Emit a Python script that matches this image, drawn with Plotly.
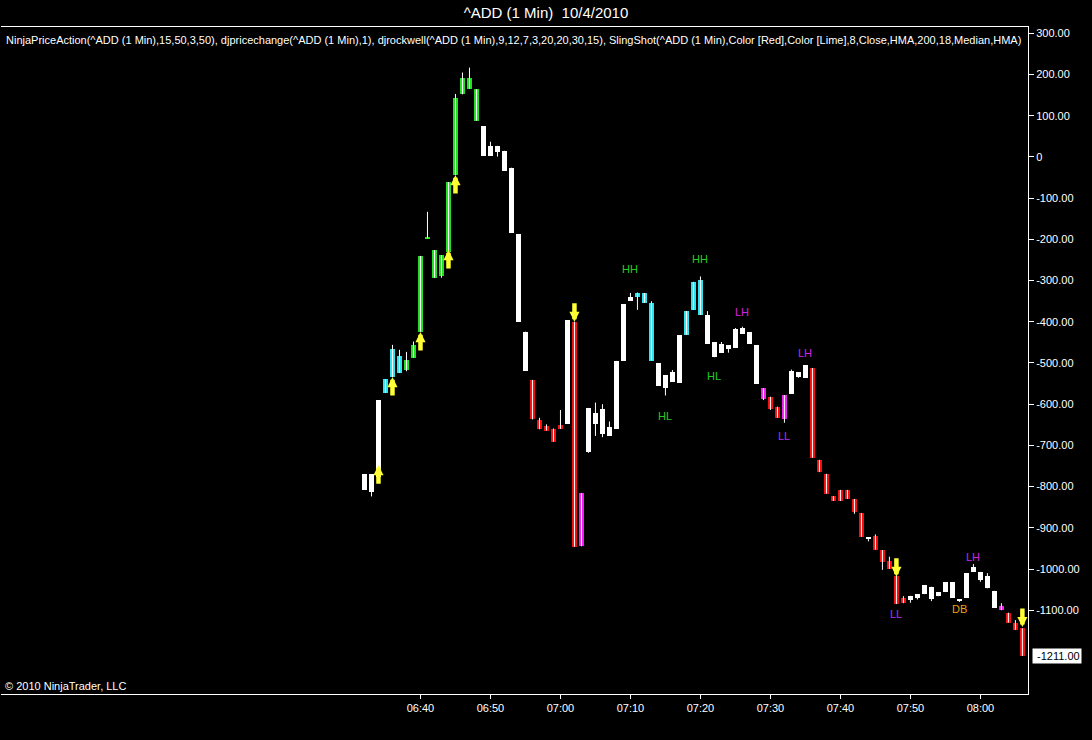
import pandas as pd
import plotly.graph_objects as go

# ---------------- data ----------------
start_time = "2010-10-04 06:32"
opens = [-808, -770, -776, -573, -534, -482, -517, -487, -424, -198,
         -293, -289, -230, -44, 152, 191, 164, 75, 3, 27,
         15, -26, -187, -424, -541, -638, -653, -659, -650, -648,
         -400, -945, -715, -648, -672, -655, -660, -494, -349, -329,
         -330, -354, -501, -529, -545, -548, -431, -371, -383, -383,
         -450, -455, -457, -463, -429, -425, -457, -561, -582, -606,
         -637, -575, -522, -536, -512, -735, -769, -823, -808, -808,
         -830, -864, -924, -921, -954, -980, -1017, -1070, -1075, -1061,
         -1061, -1043, -1056, -1056, -1032, -1075, -1070, -994, -1007, -1017,
         -1053, -1090, -1106, -1130, -1144]
closes = [-770, -813, -591, -539, -466, -524, -493, -456, -240, -195,
          -226, -238, -61, 142, 191, 165, 88, 3, 27, 13,
          -33, -184, -400, -519, -637, -661, -664, -691, -660, -396,
          -946, -816, -609, -622, -612, -676, -495, -357, -339, -341,
          -354, -494, -555, -560, -522, -432, -374, -303, -299, -453,
          -486, -475, -467, -418, -416, -453, -550, -587, -612, -633,
          -578, -519, -534, -506, -730, -765, -817, -835, -835, -830,
          -862, -922, -926, -953, -982, -1000, -1085, -1083, -1065, -1070,
          -1039, -1074, -1066, -1032, -1070, -1077, -1010, -1007, -1027, -1047,
          -1094, -1100, -1130, -1148, -1211]
highs = [-770, -770, -591, -539, -456, -468, -473, -448, -240, -133,
         -226, -238, -61, 153, 205, 217, 164, 75, 37, 27,
         15, -26, -187, -424, -541, -633, -649, -659, -614, -396,
         -400, -816, -609, -596, -600, -642, -495, -357, -330, -329,
         -330, -350, -501, -529, -517, -432, -374, -303, -290, -374,
         -450, -449, -457, -415, -412, -425, -457, -561, -582, -606,
         -578, -516, -522, -506, -512, -735, -769, -823, -808, -808,
         -830, -864, -924, -916, -954, -970, -1017, -1066, -1065, -1061,
         -1039, -1043, -1056, -1032, -1032, -1075, -1010, -988, -1007, -1010,
         -1053, -1083, -1106, -1124, -1144]
lows = [-808, -824, -778, -573, -534, -524, -520, -487, -424, -198,
        -293, -293, -230, -44, 152, 165, 88, 3, 3, 1,
        -33, -184, -400, -519, -637, -661, -664, -691, -660, -648,
        -946, -945, -718, -677, -680, -676, -660, -494, -349, -371,
        -354, -494, -555, -579, -545, -548, -431, -371, -383, -453,
        -486, -475, -475, -463, -429, -453, -550, -590, -614, -633,
        -645, -575, -536, -536, -730, -765, -817, -835, -835, -830,
        -866, -922, -933, -953, -1002, -1000, -1085, -1083, -1082, -1074,
        -1061, -1078, -1066, -1056, -1070, -1080, -1070, -1007, -1031, -1047,
        -1094, -1100, -1130, -1148, -1211]
bar_colors = (["white"] * 3 + ["cyan"] * 3 + ["green"] * 11 + ["white"] * 7 +
              ["red"] * 5 + ["white", "red", "magenta"] + ["white"] * 7 +
              ["cyan"] * 3 + ["white"] * 4 + ["cyan"] * 3 + ["white"] * 8 +
              ["magenta", "red", "red", "magenta"] + ["white"] * 3 +
              ["red"] * 8 + ["white"] + ["red"] * 5 + ["white"] * 13 +
              ["magenta"] + ["red"] * 3)

up_arrow_times = ["2010-10-04 06:34", "2010-10-04 06:36", "2010-10-04 06:40",
                  "2010-10-04 06:44", "2010-10-04 06:45"]
up_arrow_values = [-748, -534, -425, -226, -44]
down_arrow_times = ["2010-10-04 07:02", "2010-10-04 07:48", "2010-10-04 08:06"]
down_arrow_values = [-400, -1019, -1141]

label_times = ["2010-10-04 07:10", "2010-10-04 07:20", "2010-10-04 07:26",
               "2010-10-04 07:22", "2010-10-04 07:15", "2010-10-04 07:35",
               "2010-10-04 07:32", "2010-10-04 07:48", "2010-10-04 07:57",
               "2010-10-04 07:59"]
label_values = [-272, -248, -376, -532, -629, -476, -677, -1109, -1097, -971]
label_texts = ["HH", "HH", "LH", "HL", "HL", "LH", "LL", "LL", "DB", "LH"]

x_tick_times = ["2010-10-04 06:40", "2010-10-04 06:50", "2010-10-04 07:00",
                "2010-10-04 07:10", "2010-10-04 07:20", "2010-10-04 07:30",
                "2010-10-04 07:40", "2010-10-04 07:50", "2010-10-04 08:00"]
x_tick_labels = ["06:40", "06:50", "07:00", "07:10", "07:20", "07:30",
                 "07:40", "07:50", "08:00"]
y_tick_values = [300, 200, 100, 0, -100, -200, -300, -400, -500, -600,
                 -700, -800, -900, -1000, -1100]
y_tick_labels = ["300.00", "200.00", "100.00", "0", "-100.00", "-200.00",
                 "-300.00", "-400.00", "-500.00", "-600.00", "-700.00",
                 "-800.00", "-900.00", "-1000.00", "-1100.00"]

title_text = "^ADD (1 Min)  10/4/2010"
indicator_text = ("NinjaPriceAction(^ADD (1 Min),15,50,3,50), djpricechange(^ADD (1 Min),1), "
                  "djrockwell(^ADD (1 Min),9,12,7,3,20,20,30,15), SlingShot(^ADD (1 Min),"
                  "Color [Red],Color [Lime],8,Close,HMA,200,18,Median,HMA)")
copyright_text = "© 2010 NinjaTrader, LLC"

# ---------------- styles ----------------
palette = {"white": "#ffffff", "green": "#22e022", "cyan": "#2ee4f0",
           "red": "#f01010", "magenta": "#f020f0"}
label_palette = {"HH": "#22cc22", "HL": "#22cc22", "LH": "#d622e6",
                 "LL": "#b82cf0", "DB": "#f0a020"}
FONT = "Arial, Liberation Sans, sans-serif"

times = pd.date_range(start_time, periods=len(closes), freq="min")
bottoms = [min(o, c) for o, c in zip(opens, closes)]
heights = [max(abs(c - o), 2) for o, c in zip(opens, closes)]

wx, wy = [], []
for t, lo, hi in zip(times, lows, highs):
    wx += [t, t, None]
    wy += [lo, hi, None]

fig = go.Figure()
fig.add_trace(go.Scatter(x=wx, y=wy, mode="lines",
                         line=dict(color="white", width=1),
                         hoverinfo="skip", showlegend=False))
fig.add_trace(go.Bar(x=times, y=heights, base=bottoms, width=43000,
                     marker=dict(color=[palette[c] for c in bar_colors],
                                 line=dict(width=0)),
                     showlegend=False))

annotations = []
for t, v in zip(up_arrow_times, up_arrow_values):
    annotations.append(dict(x=t, y=v, xref="x", yref="y", text="", showarrow=True,
                            ax=0, ay=20, arrowcolor="#ffff33", arrowwidth=4.5,
                            arrowhead=2, arrowsize=0.45))
for t, v in zip(down_arrow_times, down_arrow_values):
    annotations.append(dict(x=t, y=v, xref="x", yref="y", text="", showarrow=True,
                            ax=0, ay=-20, arrowcolor="#ffff33", arrowwidth=4.5,
                            arrowhead=2, arrowsize=0.45))
for t, v, s in zip(label_times, label_values, label_texts):
    annotations.append(dict(x=t, y=v, xref="x", yref="y", text=s, showarrow=False,
                            font=dict(family=FONT, size=11, color=label_palette[s])))
annotations.append(dict(x=0, y=1, xref="paper", yref="paper", xanchor="left",
                        yanchor="top", xshift=3, yshift=-5, showarrow=False,
                        text=indicator_text,
                        font=dict(family=FONT, size=11, color="white")))
annotations.append(dict(x=0, y=0, xref="paper", yref="paper", xanchor="left",
                        yanchor="bottom", xshift=2, yshift=0, showarrow=False,
                        text=copyright_text,
                        font=dict(family=FONT, size=11, color="white")))
annotations.append(dict(x=1, y=closes[-1], xref="paper", yref="y", xanchor="left",
                        yanchor="middle", xshift=4, showarrow=False,
                        text=f" {closes[-1]:.2f}", bgcolor="white", borderpad=1,
                        font=dict(family=FONT, size=11, color="black")))

fig.update_layout(
    width=1092, height=740,
    paper_bgcolor="black", plot_bgcolor="black",
    margin=dict(l=1, r=64, t=27, b=46),
    title=dict(text=title_text, x=0.5, xanchor="center", y=1 - 13 / 740,
               yanchor="middle", font=dict(family=FONT, size=15, color="white")),
    showlegend=False,
    bargap=0,
    annotations=annotations,
    xaxis=dict(type="date", range=["2010-10-04 05:40:04", "2010-10-04 08:06:48"],
               showgrid=False, zeroline=False, showline=True, linecolor="white",
               linewidth=1, mirror=True, ticks="outside", ticklen=4,
               tickcolor="white", tickvals=x_tick_times, ticktext=x_tick_labels,
               tickfont=dict(family=FONT, size=11, color="white")),
    yaxis=dict(side="right", range=[-1303.4, 315.5], showgrid=False,
               zeroline=False, showline=True, linecolor="white", linewidth=1,
               ticks="outside", ticklen=5, tickcolor="white",
               tickvals=y_tick_values, ticktext=y_tick_labels,
               tickfont=dict(family=FONT, size=11, color="white")),
)

fig.write_html("out.html", config={"displayModeBar": False},
               post_script="document.body.style.margin='0';document.body.style.background='black';")
